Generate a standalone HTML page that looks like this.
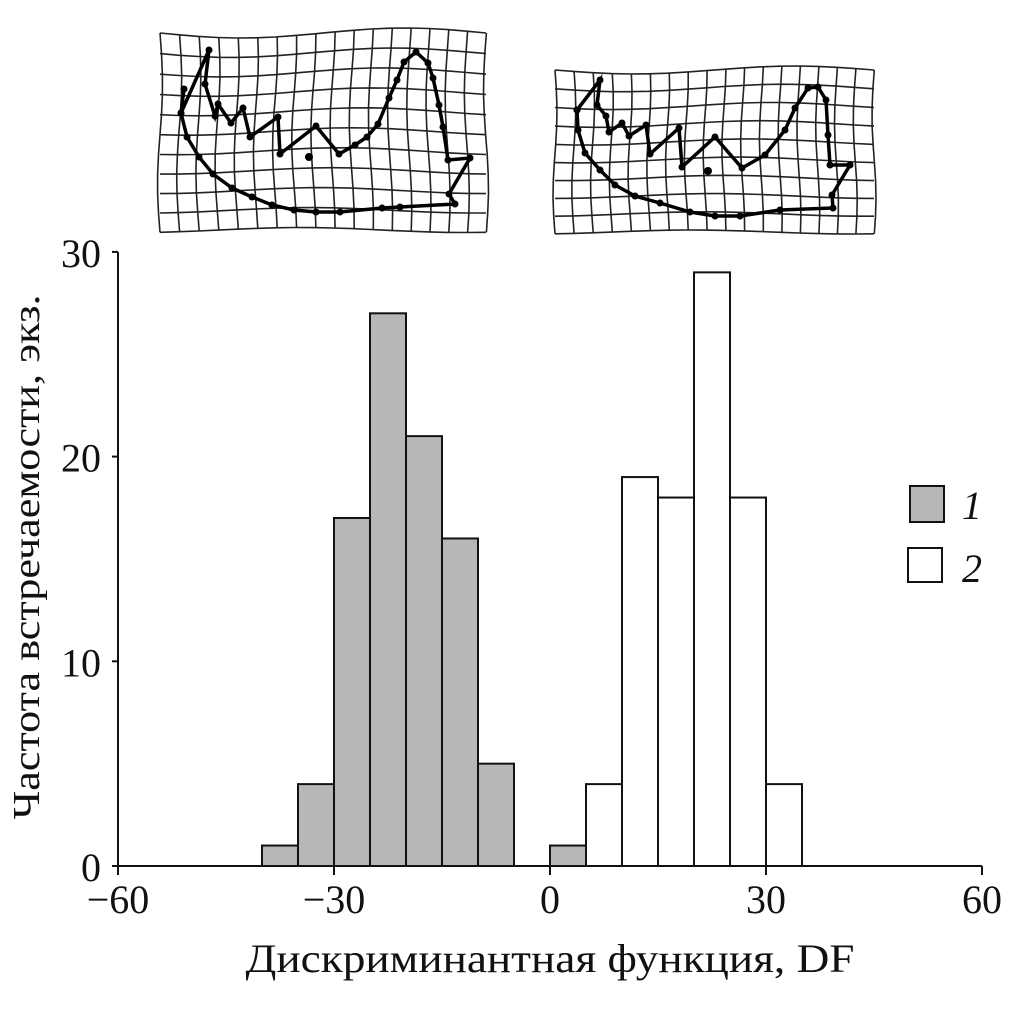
<!DOCTYPE html>
<html><head><meta charset="utf-8"><style>
html,body{margin:0;padding:0;background:#fff;}
svg text{font-family:"Liberation Serif","Times New Roman",serif;fill:#111;}
</style></head><body>
<svg id="chart" width="1010" height="1004" viewBox="0 0 1010 1004" xmlns="http://www.w3.org/2000/svg" font-family="Liberation Serif, Times New Roman, serif">
<g id="grids"></g>
<g id="plot"></g>
</svg>
<script>
const binStarts = [-40,-35,-30,-25,-20,-15,-10,0,5,10,15,20,25,30];
const binCounts = [1,4,17,27,21,16,5,1,4,19,18,29,18,4];
const binGroup  = [1,1,1,1,1,1,1,1,2,2,2,2,2,2];
const binWidth = 5;
const xTicks = [-60,-30,0,30,60];
const xTickLabels = ["\u221260","\u221230","0","30","60"];
const yTicks = [0,10,20,30];
const yTickLabels = ["0","10","20","30"];

const NS="http://www.w3.org/2000/svg";
const FF="Liberation Serif, Times New Roman, serif";
function X(v){return 550+v*7.2;}
function Y(v){return 866-v*20.47;}
function mk(tag,attrs,parent){const e=document.createElementNS(NS,tag);for(const k in attrs)e.setAttribute(k,attrs[k]);if(tag==='text')e.setAttribute('font-family',FF);parent.appendChild(e);return e;}
const plot=document.getElementById('plot');

binStarts.forEach((s,i)=>{
  const r=mk('rect',{x:X(s),y:Y(binCounts[i]),width:X(s+binWidth)-X(s),height:Y(0)-Y(binCounts[i]),
    fill:binGroup[i]===1?'#b7b7b7':'#fff',stroke:'#111','stroke-width':2},plot);
  
  
});
let a=mk('line',{x1:113,y1:866,x2:982,y2:866,stroke:'#111','stroke-width':2},plot);


a=mk('line',{x1:118,y1:252,x2:118,y2:866,stroke:'#111','stroke-width':2},plot);


xTicks.forEach((t,i)=>{
  mk('line',{x1:X(t),y1:866,x2:X(t),y2:875,stroke:'#111','stroke-width':2},plot);
  const tx=mk('text',{x:X(t),y:913,'font-size':40,'text-anchor':'middle'},plot);
  tx.textContent=xTickLabels[i];
  
  
});
yTicks.forEach((t,i)=>{
  mk('line',{x1:112,y1:Y(t),x2:118,y2:Y(t),stroke:'#111','stroke-width':2},plot);
  const tx=mk('text',{x:101,y:Y(t)+15,'font-size':40,'text-anchor':'end'},plot);
  tx.textContent=yTickLabels[i];
  
  
});
let t=mk('text',{x:550,y:972,'font-size':40,'text-anchor':'middle',textLength:609,lengthAdjust:'spacingAndGlyphs'},plot);
t.textContent='Дискриминантная функция, DF';


t=mk('text',{x:0,y:0,'font-size':38,'text-anchor':'middle',transform:'translate(39,557) rotate(-90)',textLength:525,lengthAdjust:'spacingAndGlyphs'},plot);
t.textContent='Частота встречаемости, экз.';


let l=mk('rect',{x:910,y:486,width:34,height:36,fill:'#b7b7b7',stroke:'#111','stroke-width':2},plot);


l=mk('rect',{x:908,y:548,width:34,height:34,fill:'#fff',stroke:'#111','stroke-width':2},plot);


l=mk('text',{x:962,y:519,'font-size':40,'font-style':'italic'},plot);l.textContent='1';


l=mk('text',{x:962,y:582,'font-size':40,'font-style':'italic'},plot);l.textContent='2';



const grids=document.getElementById('grids');
function grid(x0,y0,x1,y1,cols,rows,amp){
  const g=mk('g',{},grids);
  for(let r=0;r<=rows;r++){
    let d='';
    for(let c=0;c<=cols;c++){
      const fx=c/cols,fy=r/rows;
      const x=x0+(x1-x0)*fx, y=y0+(y1-y0)*fy+amp*Math.sin(Math.PI*fx*2+fy*2)*(1-fy*0.5);
      d+=(c?'L':'M')+x.toFixed(1)+','+y.toFixed(1);
    }
    mk('path',{d:d,fill:'none',stroke:'#222','stroke-width':1.6},g);
  }
  for(let c=0;c<=cols;c++){
    let d='';
    for(let r=0;r<=rows;r++){
      const fx=c/cols,fy=r/rows;
      const x=x0+(x1-x0)*fx+amp*0.5*Math.sin(Math.PI*fy*2+fx*3), y=y0+(y1-y0)*fy+amp*Math.sin(Math.PI*fx*2+fy*2)*(1-fy*0.5);
      d+=(r?'L':'M')+x.toFixed(1)+','+y.toFixed(1);
    }
    mk('path',{d:d,fill:'none',stroke:'#222','stroke-width':1.6},g);
  }
  return g;
}
let g1=grid(160,33,486,230,17,10,5);


let g2=grid(555,70,874,232,17,9,4);


function outline(pts,dot){
  const g=mk('g',{},grids);
  mk('polyline',{points:pts.map(p=>p.join(',')).join(' '),fill:'none',stroke:'#000','stroke-width':3.5},g);
  pts.forEach(p=>mk('circle',{cx:p[0],cy:p[1],r:3.5,fill:'#000'},g));
  mk('circle',{cx:dot[0],cy:dot[1],r:4,fill:'#000'},g);
  return g;
}
let o1=outline([[181,113],[209,50],[205,84],[215,116],[218,104],[231,123],[243,108],[250,137],[278,117],[280,154],[316,126],[339,154],[355,145],[367,137],[378,124],[389,98],[397,80],[404,62],[416,52],[428,63],[433,78],[439,105],[443,127],[448,160],[470,158],[449,194],[455,204],[400,207],[382,208],[340,212],[316,212],[294,210],[272,205],[252,197],[232,188],[213,174],[199,157],[187,137],[181,113],[184,89]],[309,157]);


let o2=outline([[577,110],[600,80],[597,105],[606,116],[609,132],[622,123],[629,136],[646,125],[650,154],[679,128],[682,167],[715,137],[742,168],[765,155],[785,130],[795,108],[808,88],[818,87],[826,100],[828,135],[830,165],[850,165],[832,195],[833,208],[780,210],[740,216],[715,216],[690,212],[660,203],[635,196],[615,185],[600,170],[585,153],[578,130],[577,110]],[708,171]);


</script>
</body></html>
